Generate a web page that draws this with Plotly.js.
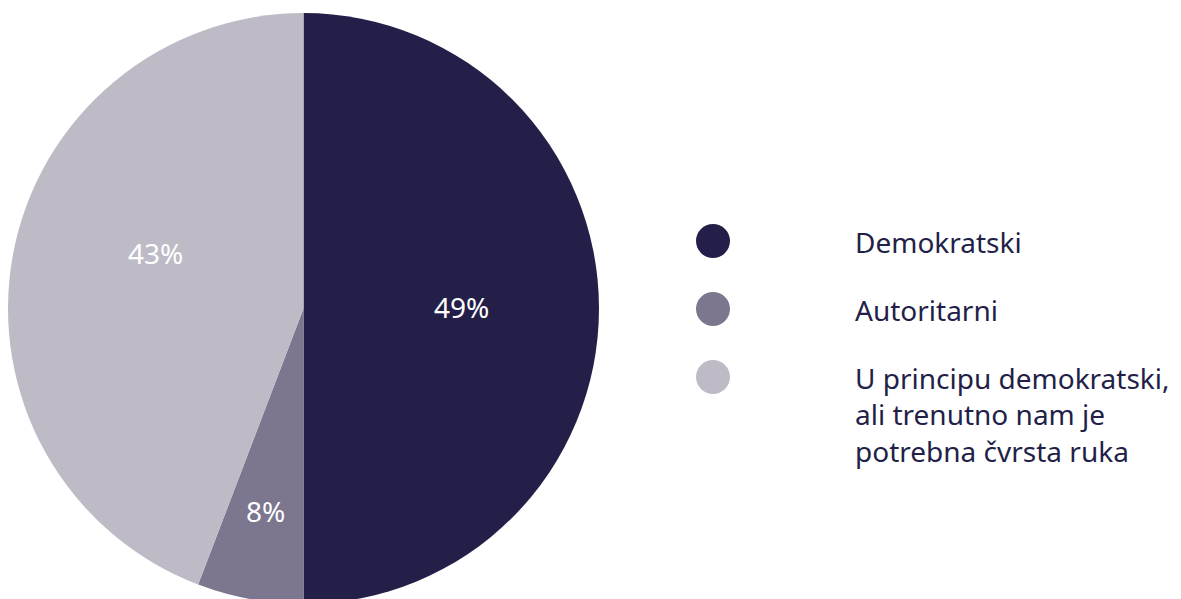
<!DOCTYPE html>
<html>
<head>
<meta charset="utf-8">
<script src="https://cdn.plot.ly/plotly-3.0.1.min.js"></script>
<style>
html,body{margin:0;padding:0;background:#fff;overflow:hidden;}
#chart{width:1181px;height:604px;}
</style>
</head>
<body>
<div id="chart"></div>
<script>
// Categories (order as drawn, clockwise from 12 o'clock)
const categories = ["Demokratski", "Autoritarni", "U principu demokratski,<br>ali trenutno nam je<br>potrebna čvrsta ruka"];
// Slice shares as drawn in the picture
const shares = [50, 5.8, 44.2];
// Printed percentage labels
const pctLabels = ["49%", "8%", "43%"];
const colors = ["#231f48", "#7c768f", "#bebbc7"];

const W = 1181, H = 604;
const px = x => x / W;
const py = y => (H - y) / H;

const FONT = "'Noto Sans', sans-serif";

const trace = {
  type: "pie",
  values: shares,
  labels: categories.map(c => c.replace(/<br>/g, " ")),
  text: pctLabels,
  textinfo: "none",
  sort: false,
  direction: "clockwise",
  rotation: 0,
  marker: {colors: colors, line: {width: 0}},
  hoverinfo: "label+text",
  showlegend: false,
  domain: {x: [px(8), px(599)], y: [0, py(13)]}
};

// label placement (layout only)
const pctPos = [[461, 309], [265, 513], [155, 255]];
const pctAnn = pctLabels.map((t, i) => ({
  xref: "paper", yref: "paper",
  x: px(pctPos[i][0]), y: py(pctPos[i][1] - 2),
  xanchor: "center", yanchor: "middle",
  text: t, showarrow: false,
  font: {family: FONT, size: 28, color: "#ffffff"}
}));

const legendY = [241, 309, 377];
const shapes = categories.map((c, i) => ({
  type: "circle", xref: "paper", yref: "paper",
  x0: px(713 - 17), x1: px(713 + 17),
  y0: py(legendY[i] + 17), y1: py(legendY[i] - 17),
  fillcolor: colors[i], line: {width: 0}
}));
const legAnn = categories.map((c, i) => ({
  xref: "paper", yref: "paper",
  x: px(853), y: py(legendY[i] - 20),
  xanchor: "left", yanchor: "top", align: "left",
  text: c, showarrow: false,
  font: {family: FONT, size: 28, color: "#231f48"}
}));

const layout = {
  width: W, height: H,
  margin: {l: 0, r: 0, t: 0, b: 0},
  paper_bgcolor: "#ffffff",
  plot_bgcolor: "#ffffff",
  shapes: shapes,
  annotations: pctAnn.concat(legAnn)
};

Plotly.newPlot("chart", [trace], layout, {displayModeBar: false, staticPlot: true});
</script>
</body>
</html>
